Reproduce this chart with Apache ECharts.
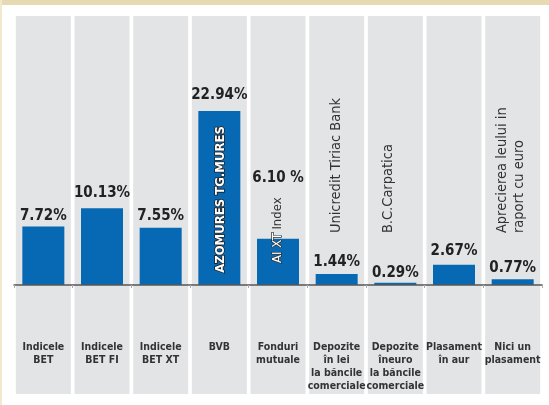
<!DOCTYPE html>
<html><head><meta charset="utf-8">
<script src="https://cdn.jsdelivr.net/npm/echarts@6/dist/echarts.min.js"></script>
<style>html,body{margin:0;padding:0;background:#fff}#c{width:549px;height:405px}</style>
</head><body><div id="c"></div>
<script>
// ---- data ----
const categories = ['Indicele\nBET', 'Indicele\nBET FI', 'Indicele\nBET XT', 'BVB', 'Fonduri\nmutuale',
  'Depozite\nîn lei\nla băncile\ncomerciale', 'Depozite\nîneuro\nla băncile\ncomerciale', 'Plasament\nîn aur', 'Nici un\nplasament'];
const values = [7.72, 10.13, 7.55, 22.94, 6.10, 1.44, 0.29, 2.67, 0.77];
const valueLabels = ['7.72%', '10.13%', '7.55%', '22.94%', '6.10 %', '1.44%', '0.29%', '2.67%', '0.77%'];
const noteCategories = [3, 4, 5, 6, 8];
const noteTexts = ['AZOMURES TG.MURES', 'AI XT Index', 'Unicredit Tiriac Bank', 'B.C.Carpatica', 'Aprecierea leului in\nraport cu euro'];

// ---- styles ----
const NARROW = "'Liberation Sans Narrow', 'DejaVu Sans Condensed', sans-serif";
const labelDistance = [3, 8, 4, 9, 53, 4, 2, 6, 4];
const noteStart = [1.6, 2.9, 6.85, 6.85, 6.85];   // value where each rotated note begins
const noteDx = [1, 0, 0, -7, -2];

const chart = echarts.init(document.getElementById('c'));
const option = {
  animation: false,
  grid: [
    { left: 14, right: 7, top: 16, bottom: 120, outerBoundsMode: 'none', containLabel: false },
    { left: 14, right: 7, top: 16, bottom: 11, outerBoundsMode: 'none', containLabel: false }
  ],
  xAxis: [
    {
      type: 'category', data: categories, gridIndex: 0, z: 10,
      axisLine: { lineStyle: { color: '#555', width: 1.5 } },
      axisTick: { show: true, length: 3, lineStyle: { color: '#aaa' } },
      axisLabel: {
        interval: 0, margin: 56, color: '#333', fontFamily: NARROW, hideOverlap: false,
        fontWeight: 'bold', fontSize: 10.5, lineHeight: 13
      }
    },
    { type: 'category', data: categories, gridIndex: 1, show: false }
  ],
  yAxis: [
    { type: 'value', gridIndex: 0, min: 0, max: 35.49, show: false, splitLine: { show: false } },
    { type: 'value', gridIndex: 1, min: 0, max: 1, show: false, splitLine: { show: false } }
  ],
  series: [
    {
      type: 'bar', xAxisIndex: 1, yAxisIndex: 1, silent: true, z: 0,
      barWidth: 55, data: categories.map(() => 1),
      itemStyle: { color: '#e3e4e6' }
    },
    {
      type: 'bar', xAxisIndex: 0, yAxisIndex: 0, z: 3,
      barWidth: 42,
      data: values.map((v, i) => ({
        value: v,
        label: {
          show: true, position: 'top', distance: labelDistance[i],
          formatter: valueLabels[i], color: '#222', fontFamily: NARROW,
          fontWeight: 'bold', fontSize: 15
        }
      })),
      itemStyle: { color: '#0768b4' }
    }
  ]
};
chart.setOption(option);

function px(cat, v) { return chart.convertToPixel({ xAxisIndex: 0, yAxisIndex: 0 }, [cat, v]); }
const noteStyles = [
  { fill: '#fff', stroke: '#222', lineWidth: 1.6, fontWeight: 'bold', fontSize: 13 },
  null,
  { fill: '#333', fontSize: 14.5 },
  { fill: '#333', fontSize: 14.5 },
  { fill: '#333', fontSize: 14.5, lineHeight: 17 }
];
const graphics = [
  { type: 'rect', shape: { x: 0, y: 0, width: 549, height: 5 }, style: { fill: '#e6dab3' }, z: 100 },
  { type: 'rect', shape: { x: 0, y: 0, width: 2, height: 405 }, style: { fill: '#f1e9cd' }, z: 100 }
];
noteTexts.forEach((t, i) => {
  const p = px(noteCategories[i], noteStart[i]);
  let style;
  if (i === 1) {
    const parts = t.split(' ');
    style = {
      text: '{a|' + parts[0] + ' ' + parts[1] + '} {b|' + parts.slice(2).join(' ') + '}',
      rich: {
        a: { fill: '#fff', stroke: '#333', lineWidth: 1.4, fontSize: 13, fontFamily: NARROW },
        b: { fill: '#333', fontSize: 13, fontFamily: NARROW }
      }
    };
  } else {
    style = Object.assign({ text: t, fontFamily: NARROW }, noteStyles[i]);
  }
  style.align = 'left';
  style.verticalAlign = 'middle';
  graphics.push({
    type: 'text', x: p[0] + noteDx[i], y: p[1], rotation: Math.PI / 2, z: 50,
    style: style
  });
});
chart.setOption({ graphic: graphics });
</script>
</body></html>
